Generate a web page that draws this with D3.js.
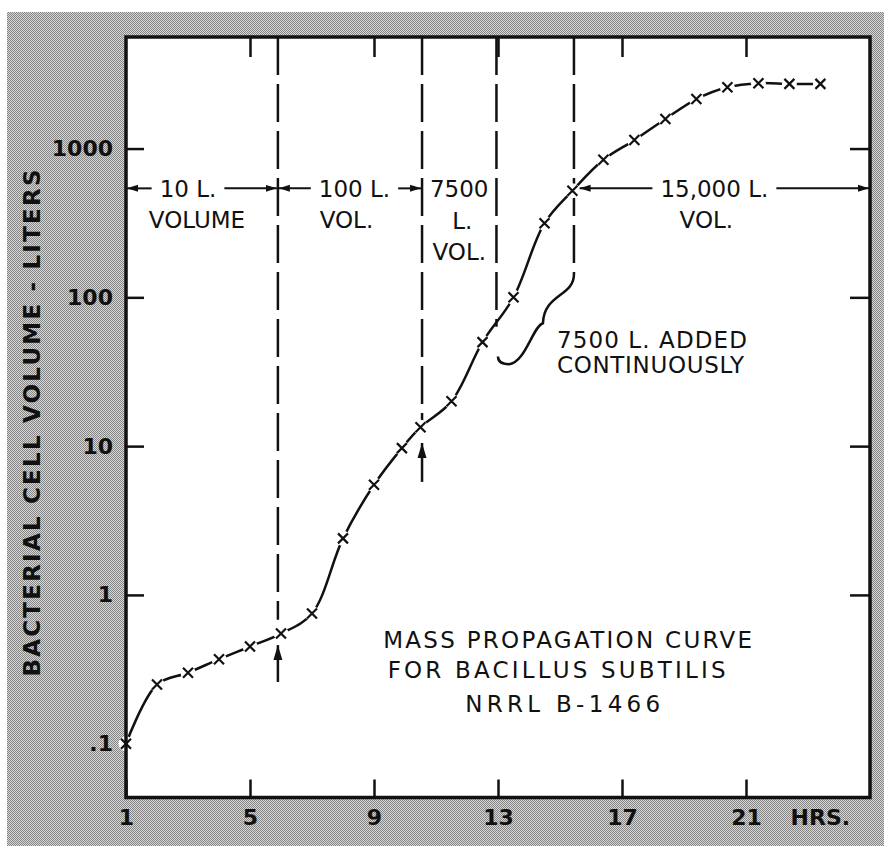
<!DOCTYPE html>
<html>
<head>
<meta charset="utf-8">
<script src="https://cdn.jsdelivr.net/npm/d3@7"></script>
<style>
  body { margin: 0; background: #fff; }
  svg text { font-family: "DejaVu Sans", sans-serif; fill: #111; }
</style>
</head>
<body>
<div id="chart"></div>
<script>
// Mass propagation curve
const hours  = [1, 2, 3, 4, 5, 6, 7, 8, 9, 9.9, 10.5, 11.5, 12.5, 13.5, 14.5, 15.4, 16.4, 17.4, 18.4, 19.4, 20.4, 21.4, 22.4, 23.4];
const volume = [0.1, 0.25, 0.3, 0.37, 0.45, 0.55, 0.75, 2.4, 5.5, 9.7, 13.4, 20, 50, 100, 315, 520, 840, 1140, 1580, 2150, 2580, 2750, 2720, 2720];

const xTicks = [1, 5, 9, 13, 17, 21];
const yTicks = [0.1, 1, 10, 100, 1000];
const yTickLabels = [".1", "1", "10", "100", "1000"];

// transfer to the next tank: hour and volume where the dashed line stops
const transferHours = [5.9, 10.55, 12.95, 15.45];
const transferEnds  = [0.68, 13, 63.5, 146];

// tank stages shown with arrows
const stageLabels = ["10 L.", "100 L.", "15,000 L."];
const stageSub    = ["VOLUME", "VOL.", "VOL."];
const stageFrom   = [1, 5.9, 15.6];
const stageTo     = [5.9, 10.55, 25];
const stageMid    = [3.0, 8.37, 19.98];
const stageVolume = 540;

// inoculation arrows (hour, from, to)
const inocHours = [5.9, 10.55];
const inocFrom  = [0.26, 5.75];
const inocTo    = [0.46, 10.5];

const width = 887;
const height = 846;

const x = d3.scaleLinear().domain([1, 25]).range([126, 870]);
const y = d3.scaleLog().domain([0.0435, 5620]).range([797.5, 37]);

const svg = d3.select("#chart").append("svg")
    .attr("width", width)
    .attr("height", height);

const defs = svg.append("defs");

// halftone grey around the plot
const pat = defs.append("pattern")
    .attr("id", "halftone")
    .attr("patternUnits", "userSpaceOnUse")
    .attr("width", 2).attr("height", 2);
pat.append("rect").attr("width", 2).attr("height", 2).attr("fill", "#d6d6d6");
pat.append("rect").attr("width", 1).attr("height", 1).attr("fill", "#868686");
pat.append("rect").attr("x", 1).attr("y", 1).attr("width", 1).attr("height", 1).attr("fill", "#868686");

defs.append("marker")
    .attr("id", "head")
    .attr("markerUnits", "userSpaceOnUse")
    .attr("viewBox", "0 -5 12 10")
    .attr("refX", 11).attr("refY", 0)
    .attr("markerWidth", 12).attr("markerHeight", 10)
    .attr("orient", "auto-start-reverse")
  .append("path")
    .attr("d", "M0,-3.5L11,0L0,3.5Z")
    .attr("fill", "#111");

defs.append("marker")
    .attr("id", "bighead")
    .attr("markerUnits", "userSpaceOnUse")
    .attr("viewBox", "0 -6 16 12")
    .attr("refX", 15).attr("refY", 0)
    .attr("markerWidth", 16).attr("markerHeight", 12)
    .attr("orient", "auto")
  .append("path")
    .attr("d", "M0,-4.5L15,0L0,4.5Z")
    .attr("fill", "#111");

svg.append("rect")
    .attr("x", 7).attr("y", 12)
    .attr("width", 877).attr("height", 834)
    .attr("fill", "url(#halftone)");

// plot area
svg.append("rect")
    .attr("x", x(1)).attr("y", y(5620))
    .attr("width", x(25) - x(1))
    .attr("height", y(0.0435) - y(5620))
    .attr("fill", "#fff");

// axes with inward ticks
function styleAxis(g) {
  g.select(".domain").remove();
  g.selectAll(".tick line").attr("stroke", "#111").attr("stroke-width", 2.5);
  g.selectAll(".tick text")
      .attr("fill", "#111")
      .style("font-family", "'DejaVu Sans', sans-serif")
      .style("font-size", "22px")
      .style("font-weight", "bold");
}

const yAxis = svg.append("g")
    .attr("transform", `translate(${x(1)},0)`)
    .call(d3.axisLeft(y).tickValues(yTicks)
        .tickFormat((d, i) => yTickLabels[i])
        .tickSize(-18).tickPadding(13))
    .call(styleAxis);
yAxis.selectAll(".tick line").filter(d => d < 0.5).remove();

const xAxis = svg.append("g")
    .attr("transform", `translate(0,${y(0.0435)})`)
    .call(d3.axisBottom(x).tickValues(xTicks)
        .tickFormat(d3.format("d"))
        .tickSize(-18).tickPadding(12))
    .call(styleAxis);

xAxis.append("text")
    .attr("x", x(23.4))
    .attr("y", 12)
    .attr("dy", "0.71em")
    .attr("text-anchor", "middle")
    .style("font-size", "22px")
    .style("font-weight", "bold")
    .text("HRS.");

svg.append("g")
    .attr("transform", `translate(0,${y(5620)})`)
    .call(d3.axisTop(x).tickValues(xTicks.slice(1)).tickFormat("").tickSize(-20))
    .call(styleAxis);

svg.append("g")
    .attr("transform", `translate(${x(25)},0)`)
    .call(d3.axisRight(y).tickValues(yTicks.slice(1)).tickFormat("").tickSize(-20))
    .call(styleAxis);

// dashed transfer lines
svg.append("g")
  .selectAll("line")
  .data(transferHours)
  .join("line")
    .attr("x1", d => x(d)).attr("x2", d => x(d))
    .attr("y1", y(5620))
    .attr("y2", (d, i) => y(transferEnds[i]))
    .attr("stroke", "#111")
    .attr("stroke-width", 2.5)
    .attr("stroke-dasharray", "38,9");

// brace: 7500 L. added continuously
const bTop = [x(15.45), y(146)];
const bTip = [x(14.45), y(67)];
const bEnd = [x(13.0), y(40)];
svg.append("path")
    .attr("d", `M${bTop[0]},${bTop[1]}` +
      `C${bTop[0] + 1},${bTop[1] + 24} ${bTip[0] + 1},${bTip[1] - 30} ${bTip[0]},${bTip[1]}` +
      `C${bTip[0] - 10},${bTip[1] + 3} ${bTip[0] - 18},${bTip[1] + 40} ${bTip[0] - 34},${bTip[1] + 41}` +
      `C${bTip[0] - 41},${bTip[1] + 41} ${bEnd[0]},${bEnd[1] + 5} ${bEnd[0]},${bEnd[1]}`)
    .attr("fill", "none")
    .attr("stroke", "#111")
    .attr("stroke-width", 2.5);

// growth curve
const line = d3.line()
    .x(d => x(d[0]))
    .y(d => y(d[1]))
    .curve(d3.curveCatmullRom.alpha(0.5));
const pts = hours.map((h, i) => [h, volume[i]]);

svg.append("path")
    .datum(pts)
    .attr("d", line)
    .attr("fill", "none")
    .attr("stroke", "#111")
    .attr("stroke-width", 2.5);

// white gaps round the markers
svg.append("g")
  .selectAll("circle")
  .data(pts)
  .join("circle")
    .attr("cx", d => x(d[0]))
    .attr("cy", d => y(d[1]))
    .attr("r", 7.5)
    .attr("fill", "#fff");

svg.append("g")
  .selectAll("path")
  .data(pts)
  .join("path")
    .attr("transform", d => `translate(${x(d[0])},${y(d[1])})`)
    .attr("d", "M-5,-5L5,5M-5,5L5,-5")
    .attr("stroke", "#111")
    .attr("stroke-width", 2.2)
    .attr("fill", "none");

// stage arrows with labels
const rowY = y(stageVolume);
const stages = svg.append("g");
stageLabels.forEach((lab, i) => {
  const t = stages.append("text")
      .attr("x", x(stageMid[i]))
      .attr("y", rowY + 9)
      .attr("text-anchor", "middle")
      .style("font-size", "23px")
      .text(lab);
  const bb = t.node().getBBox();
  stages.append("line")
      .attr("x1", bb.x - 8).attr("x2", x(stageFrom[i]) + 1)
      .attr("y1", rowY).attr("y2", rowY)
      .attr("stroke", "#111").attr("stroke-width", 2)
      .attr("marker-end", "url(#head)");
  stages.append("line")
      .attr("x1", bb.x + bb.width + 8).attr("x2", x(stageTo[i]) - 1)
      .attr("y1", rowY).attr("y2", rowY)
      .attr("stroke", "#111").attr("stroke-width", 2)
      .attr("marker-end", "url(#head)");
  stages.append("text")
      .attr("x", x(stageMid[i]) - (i === 0 ? -9 : 8))
      .attr("y", rowY + 40)
      .attr("text-anchor", "middle")
      .style("font-size", "23px")
      .text(stageSub[i]);
});

// 7500 L. stage between the second and third lines
const midB = (transferHours[1] + transferHours[2]) / 2;
["7500", "L.", "VOL."].forEach((s, i) => {
  svg.append("text")
      .attr("x", x(midB) + (i === 1 ? 3 : 0))
      .attr("y", rowY + 9 + i * 31.5)
      .attr("text-anchor", "middle")
      .style("font-size", "23px")
      .text(s);
});

// inoculation arrows
svg.append("g")
  .selectAll("line")
  .data(inocHours)
  .join("line")
    .attr("x1", d => x(d)).attr("x2", d => x(d))
    .attr("y1", (d, i) => y(inocFrom[i]))
    .attr("y2", (d, i) => y(inocTo[i]))
    .attr("stroke", "#111")
    .attr("stroke-width", 2.5)
    .attr("marker-end", "url(#bighead)");

// brace note
["7500 L. ADDED", "CONTINUOUSLY"].forEach((s, i) => {
  svg.append("text")
      .attr("x", bTip[0] + 14)
      .attr("y", bTip[1] + 25 + i * 25)
      .attr("textLength", i === 0 ? 190 : 187)
      .attr("lengthAdjust", "spacing")
      .style("font-size", "23px")
      .text(s);
});

// title block
const title = ["MASS PROPAGATION CURVE", "FOR BACILLUS SUBTILIS", "NRRL B-1466"];
const titleLen = [369, 338, 195];
const titleDy = [0, 30, 64];
const titleDx = [3, -8, -2];
title.forEach((s, i) => {
  svg.append("text")
      .attr("x", x(15.15) + titleDx[i])
      .attr("y", y(0.44) + titleDy[i])
      .attr("text-anchor", "middle")
      .attr("textLength", titleLen[i])
      .attr("lengthAdjust", "spacing")
      .style("font-size", "23px")
      .text(s);
});

// y axis title
svg.append("text")
    .attr("transform", "translate(40,423) rotate(-90)")
    .attr("text-anchor", "middle")
    .attr("textLength", 507)
    .attr("lengthAdjust", "spacing")
    .style("font-size", "23px")
    .style("font-weight", "bold")
    .text("BACTERIAL CELL VOLUME - LITERS");

// frame
svg.append("rect")
    .attr("x", x(1)).attr("y", y(5620))
    .attr("width", x(25) - x(1))
    .attr("height", y(0.0435) - y(5620))
    .attr("fill", "none")
    .attr("stroke", "#111")
    .attr("stroke-width", 3.5);
</script>
</body>
</html>
